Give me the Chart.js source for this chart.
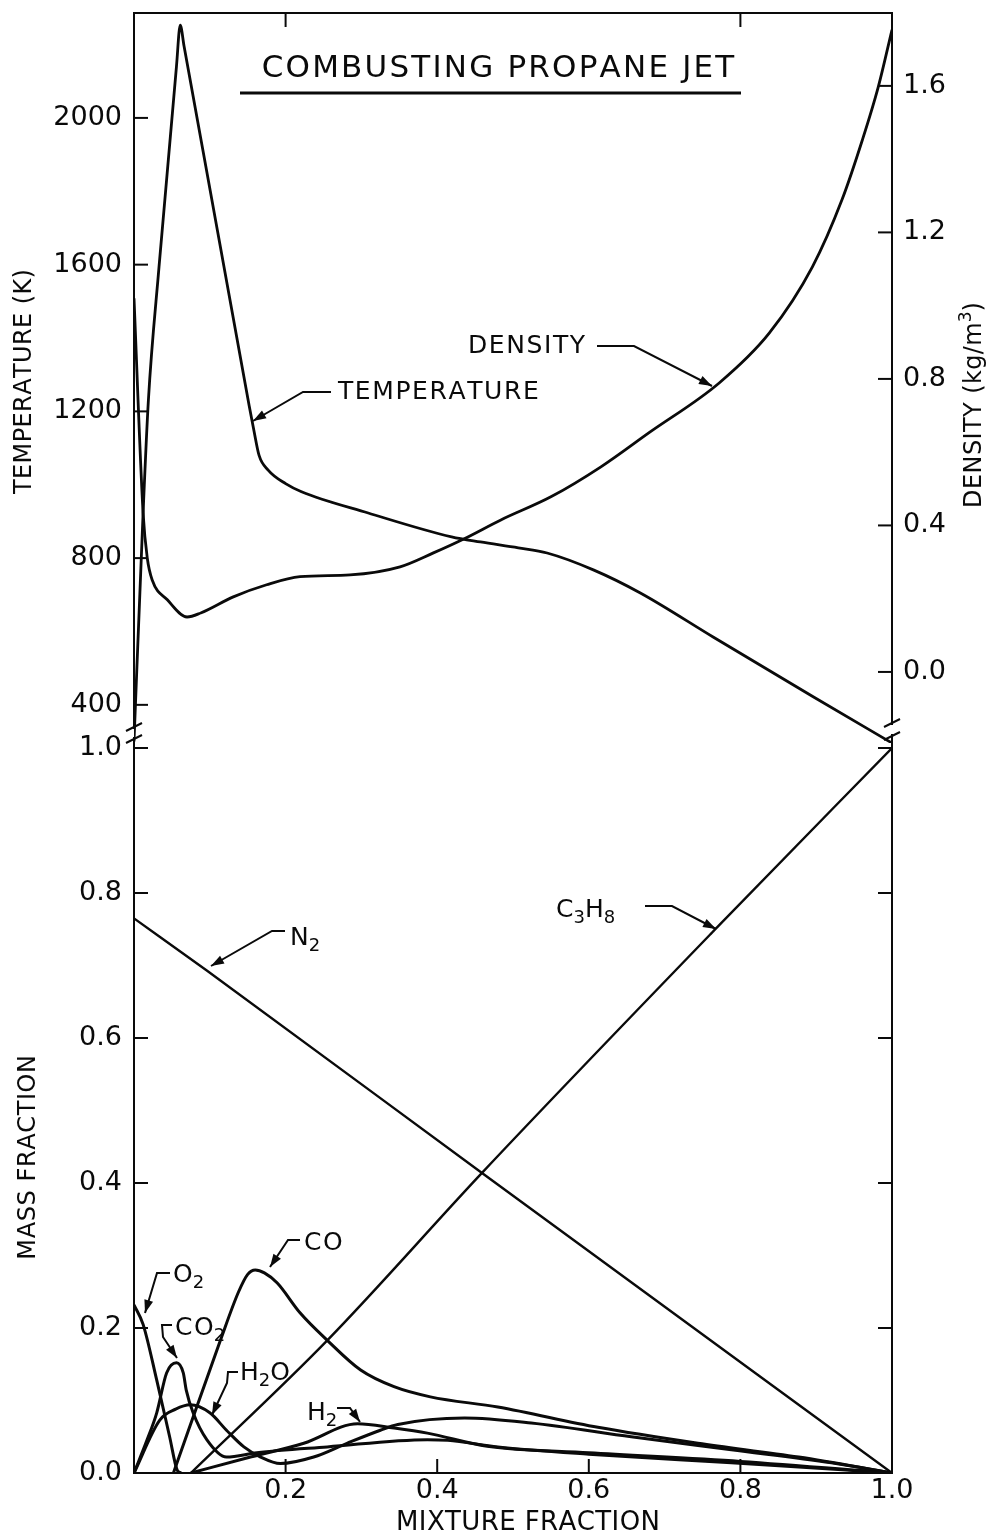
<!DOCTYPE html>
<html>
<head>
<meta charset="utf-8">
<title>Combusting Propane Jet</title>
<script src="https://cdn.jsdelivr.net/npm/chart.js@4.4.0/dist/chart.umd.min.js"></script>
<style>
    html, body { margin: 0; padding: 0; background: #fff; }
    #wrap { position: relative; width: 991px; height: 1536px; }
</style>
</head>
<body>
<div id="wrap"><canvas id="flameChart" width="991" height="1536"></canvas></div>
<script>
// Tick values for each axis
const mixTicks = [0.2, 0.4, 0.6, 0.8, 1.0];
const topTicks = [0.2, 0.8];
const tempTicks = [400, 800, 1200, 1600, 2000];
const densTicks = [0.0, 0.4, 0.8, 1.2, 1.6];
const massTicks = [0.0, 0.2, 0.4, 0.6, 0.8, 1.0];

// Upper panel: temperature (K) and density (kg/m3) against mixture fraction
const tempX = [0, 0.012, 0.019, 0.033, 0.056, 0.061, 0.066, 0.11, 0.152, 0.158, 0.165, 0.177, 0.2, 0.221, 0.309, 0.419, 0.457, 0.507, 0.545, 0.606, 0.668, 0.764, 0.896, 1.0];
const tempK = [300, 923, 1231, 1594, 2140, 2253, 2196, 1694, 1215, 1150, 1080, 1040, 1003, 981, 923, 858, 844, 828, 814, 768, 705, 585, 422, 296];

const densX = [0, 0.012, 0.0175, 0.024, 0.044, 0.07, 0.088, 0.131, 0.175, 0.219, 0.285, 0.351, 0.395, 0.435, 0.484, 0.55, 0.616, 0.68, 0.772, 0.838, 0.895, 0.934, 0.961, 0.982, 1.0];
const densKg = [1.02, 0.434, 0.311, 0.251, 0.197, 0.150, 0.161, 0.205, 0.238, 0.26, 0.265, 0.287, 0.325, 0.363, 0.415, 0.478, 0.56, 0.654, 0.789, 0.925, 1.106, 1.289, 1.453, 1.598, 1.753];

// Lower panel: species mass fractions
const n2X = [0, 0.096, 0.46, 1.0];
const n2Y = [0.765, 0.693, 0.413, 0];

const c3h8X = [0.075, 0.255, 0.46, 0.765, 1.0];
const c3h8Y = [0, 0.183, 0.415, 0.748, 1.0];

const o2X = [0, 0.012, 0.03, 0.047, 0.057, 0.062];
const o2Y = [0.232, 0.205, 0.128, 0.05, 0.004, 0];

const co2X = [0, 0.017, 0.03, 0.043, 0.056, 0.065, 0.069, 0.078, 0.096, 0.122, 0.162, 0.255, 0.387, 0.414, 0.48, 0.6, 0.788, 1.0];
const co2Y = [0, 0.045, 0.083, 0.138, 0.152, 0.138, 0.114, 0.083, 0.046, 0.022, 0.028, 0.036, 0.046, 0.045, 0.036, 0.026, 0.014, 0];

const h2oX = [0, 0.034, 0.055, 0.074, 0.1, 0.122, 0.145, 0.167, 0.193, 0.237, 0.281, 0.325, 0.348, 0.436, 0.524, 0.656, 0.788, 0.92, 1.0];
const h2oY = [0, 0.073, 0.088, 0.094, 0.083, 0.059, 0.036, 0.022, 0.013, 0.022, 0.041, 0.059, 0.067, 0.076, 0.069, 0.050, 0.032, 0.014, 0];

const coX = [0.052, 0.114, 0.138, 0.15, 0.16, 0.172, 0.189, 0.219, 0.255, 0.299, 0.343, 0.391, 0.48, 0.612, 0.744, 0.877, 1.0];
const coY = [0, 0.183, 0.25, 0.274, 0.28, 0.276, 0.262, 0.221, 0.183, 0.142, 0.119, 0.105, 0.091, 0.063, 0.041, 0.022, 0];

const h2X = [0.075, 0.15, 0.224, 0.295, 0.343, 0.387, 0.466, 0.6, 0.8, 1.0];
const h2Y = [0, 0.021, 0.041, 0.068, 0.062, 0.055, 0.037, 0.028, 0.016, 0];

const ink = '#0a0a0a';
const FONT = '"DejaVu Sans", "Liberation Sans", sans-serif';

Chart.defaults.font.family = FONT;
Chart.defaults.color = ink;

function pts(xs, ys) {
    return xs.map((x, i) => ({ x: x, y: ys[i] }));
}

function curve(xs, ys, axis, width) {
    return {
        data: pts(xs, ys),
        yAxisID: axis,
        borderColor: ink,
        borderWidth: width,
        pointRadius: 0,
        fill: false,
        cubicInterpolationMode: 'monotone'
    };
}

function fixedTicks(values) {
    return function(scale) {
        scale.ticks = values.map(v => ({ value: v }));
    };
}

// keep the plot area where the padding puts it, ignoring label overhang
function fixSize(prop, size) {
    return function(scale) {
        scale[prop] = size;
        scale.paddingTop = 0;
        scale.paddingBottom = 0;
        scale.paddingLeft = 0;
        scale.paddingRight = 0;
    };
}

function line(ctx, path) {
    ctx.beginPath();
    ctx.moveTo(path[0][0], path[0][1]);
    for (let i = 1; i < path.length; i++) ctx.lineTo(path[i][0], path[i][1]);
    ctx.stroke();
}

// Leader line ending in a filled arrow head
function arrow(ctx, path) {
    line(ctx, path);
    const [x1, y1] = path[path.length - 2];
    const [x2, y2] = path[path.length - 1];
    const a = Math.atan2(y2 - y1, x2 - x1);
    const L = 13, W = 4.5;
    ctx.beginPath();
    ctx.moveTo(x2, y2);
    ctx.lineTo(x2 - L * Math.cos(a) + W * Math.sin(a), y2 - L * Math.sin(a) - W * Math.cos(a));
    ctx.lineTo(x2 - L * Math.cos(a) - W * Math.sin(a), y2 - L * Math.sin(a) + W * Math.cos(a));
    ctx.closePath();
    ctx.fill();
}

// Text made of pieces, some lowered (sub) or raised (sup)
function richWidth(ctx, parts, size, spacing) {
    let w = 0;
    parts.forEach(([t, kind]) => {
        ctx.font = (kind ? Math.round(size * 0.72) : size) + 'px ' + FONT;
        w += ctx.measureText(t).width + spacing * (t.length - 1);
    });
    return w;
}

function drawRich(ctx, parts, x, y, size, spacing) {
    let cx = x;
    parts.forEach(([t, kind]) => {
        ctx.font = (kind ? Math.round(size * 0.72) : size) + 'px ' + FONT;
        const dy = kind === 'sub' ? size * 0.32 : kind === 'sup' ? -size * 0.36 : 0;
        for (const ch of t) {
            ctx.fillText(ch, cx, y + dy);
            cx += ctx.measureText(ch).width + spacing;
        }
        cx -= spacing;
    });
    return cx;
}

function tickY(ctx, scale, v, x, len) {
    const p = scale.getPixelForValue(v);
    line(ctx, [[x, p], [x + len, p]]);
}

function tickX(ctx, scale, v, y, len) {
    const p = scale.getPixelForValue(v);
    line(ctx, [[p, y], [p, y + len]]);
}

// Frame, inward ticks and axis breaks
const framePlugin = {
    id: 'frame',
    beforeDatasetsDraw(chart) {
        const { ctx, chartArea: a, scales: s } = chart;
        ctx.save();
        ctx.strokeStyle = ink;
        ctx.fillStyle = ink;
        ctx.lineWidth = 2;
        line(ctx, [[a.left - 1, a.top], [a.right + 1, a.top]]);

        const T = 14;
        tempTicks.forEach(v => tickY(ctx, s.yT, v, a.left, T));
        densTicks.forEach(v => tickY(ctx, s.yD, v, a.right, -T));
        massTicks.slice(1).forEach(v => {
            tickY(ctx, s.yM, v, a.left, T);
            tickY(ctx, s.yR, v, a.right, -T);
        });
        mixTicks.slice(0, -1).forEach(v => tickX(ctx, s.x, v, a.bottom, -T));
        topTicks.forEach(v => tickX(ctx, s.x, v, a.top, T));

        // break marks where the two panels meet
        const b = s.yT.bottom;
        [[a.left, b - 16, b - 4], [a.right, b - 20, b - 7]].forEach(([x, y1, y2]) => {
            ctx.fillStyle = '#fff';
            ctx.fillRect(x - 2, y1 + 2, 4, y2 - y1 - 4);
            ctx.fillStyle = ink;
            line(ctx, [[x - 8, y1 + 4], [x + 8, y1 - 4]]);
            line(ctx, [[x - 8, y2 + 4], [x + 8, y2 - 4]]);
        });
        ctx.restore();
    },
    afterDraw(chart) {
        const { ctx } = chart;
        ctx.save();
        ctx.fillStyle = ink;
        ctx.strokeStyle = ink;
        ctx.textBaseline = 'middle';
        ctx.textAlign = 'left';

        // title with underline
        const title = [['COMBUSTING PROPANE JET']];
        const tw = richWidth(ctx, title, 31, 2.2);
        drawRich(ctx, title, 497 - tw / 2, 69, 31, 2.2);
        ctx.lineWidth = 3;
        line(ctx, [[240, 93], [741, 93]]);

        // axis titles
        const vTitle = (parts, cx, cy, size, sp) => {
            ctx.save();
            ctx.translate(cx, cy);
            ctx.rotate(-Math.PI / 2);
            const w = richWidth(ctx, parts, size, sp);
            drawRich(ctx, parts, -w / 2, 0, size, sp);
            ctx.restore();
        };
        vTitle([['TEMPERATURE (K)']], 25, 383, 24, 0.4);
        vTitle([['DENSITY (kg/m'], ['3', 'sup'], [')']], 975, 405, 24, 0.4);
        vTitle([['MASS FRACTION']], 29, 1158, 24, 0.6);
        const mx = [['MIXTURE FRACTION']];
        const mw = richWidth(ctx, mx, 26, 0.4);
        drawRich(ctx, mx, 527 - mw / 2, 1523, 26, 0.4);

        // curve labels with leaders
        const notes = [
            { text: [['TEMPERATURE']], at: [338, 392], path: [[331, 392], [303, 392], [253, 421]] },
            { text: [['DENSITY']], at: [468, 346], path: [[597, 346], [634, 346], [712, 386]] },
            { text: [['N'], ['2', 'sub']], at: [290, 938], path: [[285, 931], [272, 931], [211, 966]] },
            { text: [['C'], ['3', 'sub'], ['H'], ['8', 'sub']], at: [556, 910], path: [[645, 906], [672, 906], [716, 929]] },
            { text: [['CO']], at: [304, 1243], path: [[300, 1240], [288, 1240], [270, 1267]] },
            { text: [['O'], ['2', 'sub']], at: [173, 1275], path: [[170, 1273], [157, 1273], [145, 1313]] },
            { text: [['CO'], ['2', 'sub']], at: [175, 1328], path: [[172, 1325], [162, 1325], [163, 1337], [177, 1358]] },
            { text: [['H'], ['2', 'sub'], ['O']], at: [240, 1373], path: [[238, 1372], [228, 1372], [227, 1383], [212, 1415]] },
            { text: [['H'], ['2', 'sub']], at: [307, 1413], path: [[337, 1408], [350, 1408], [360, 1422]] }
        ];
        ctx.lineWidth = 2;
        notes.forEach(n => {
            drawRich(ctx, n.text, n.at[0], n.at[1], 25, 1.6);
            arrow(ctx, n.path);
        });
        ctx.restore();
    }
};

const tickFont = { family: FONT, size: 27 };
const axisBorder = { color: ink, width: 2 };
const noGrid = { display: false, drawTicks: false };

new Chart(document.getElementById('flameChart'), {
    type: 'line',
    data: {
        datasets: [
            curve(tempX, tempK, 'yT', 2.8),
            curve(densX, densKg, 'yD', 2.8),
            curve(n2X, n2Y, 'yM', 2.4),
            curve(c3h8X, c3h8Y, 'yM', 2.4),
            curve(o2X, o2Y, 'yM', 3),
            curve(co2X, co2Y, 'yM', 3),
            curve(h2oX, h2oY, 'yM', 3),
            curve(coX, coY, 'yM', 3),
            curve(h2X, h2Y, 'yM', 3)
        ]
    },
    options: {
        responsive: false,
        animation: false,
        events: [],
        layout: { padding: { top: 13, left: 0, right: 0, bottom: 0 } },
        plugins: {
            legend: { display: false },
            tooltip: { enabled: false }
        },
        scales: {
            x: {
                type: 'linear',
                position: 'bottom',
                min: 0,
                max: 1,
                afterBuildTicks: fixedTicks(mixTicks),
                afterFit: fixSize('height', 63),
                grid: noGrid,
                border: axisBorder,
                ticks: { font: tickFont, padding: 2, autoSkip: false, maxRotation: 0, callback: v => v.toFixed(1) }
            },
            // listed before yT so that it sits below it in the left stack
            yM: {
                type: 'linear',
                position: 'left',
                stack: 'left',
                stackWeight: 1,
                min: 0,
                max: 1.0069,
                afterBuildTicks: fixedTicks(massTicks),
                afterFit: fixSize('width', 134),
                grid: noGrid,
                border: axisBorder,
                ticks: { font: tickFont, padding: 12, autoSkip: false, callback: v => v.toFixed(1) }
            },
            yT: {
                type: 'linear',
                position: 'left',
                stack: 'left',
                stackWeight: 1,
                min: 296,
                max: 2286,
                afterBuildTicks: fixedTicks(tempTicks),
                afterFit: fixSize('width', 134),
                grid: noGrid,
                border: axisBorder,
                ticks: { font: tickFont, padding: 12, autoSkip: false, callback: v => String(v) }
            },
            yD: {
                type: 'linear',
                position: 'right',
                stack: 'right',
                stackWeight: 1,
                min: -0.194,
                max: 1.799,
                afterBuildTicks: fixedTicks(densTicks),
                afterFit: fixSize('width', 99),
                grid: noGrid,
                border: axisBorder,
                ticks: { font: tickFont, padding: 11, autoSkip: false, callback: v => v.toFixed(1) }
            },
            yR: {
                type: 'linear',
                position: 'right',
                stack: 'right',
                stackWeight: 1,
                min: 0,
                max: 1.0069,
                afterBuildTicks: fixedTicks(massTicks),
                afterFit: fixSize('width', 99),
                grid: noGrid,
                border: axisBorder,
                ticks: { display: false }
            }
        }
    },
    plugins: [framePlugin]
});
</script>
</body>
</html>
